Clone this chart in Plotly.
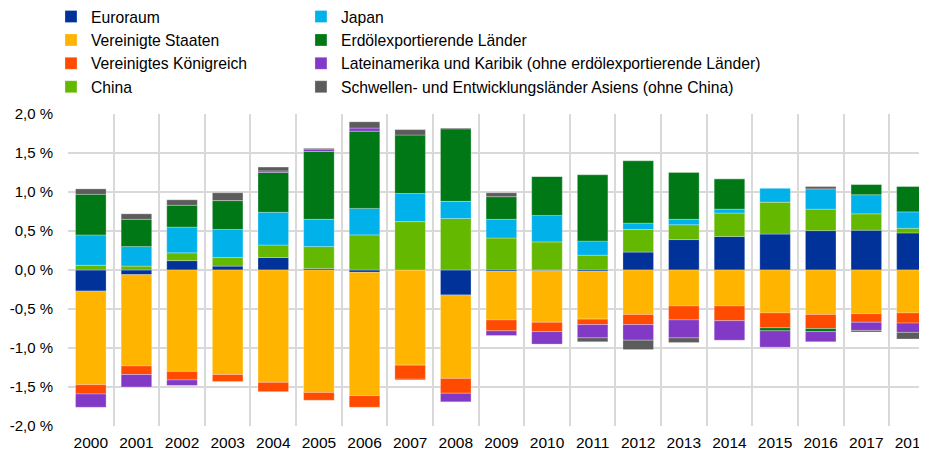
import plotly.graph_objects as go

years = [str(y) for y in range(2000, 2019)]

euroraum =     [-0.27, -0.06, 0.12, 0.05, 0.16, 0.02, -0.03, 0.00, -0.32, -0.02, -0.01, -0.02, 0.23, 0.39, 0.43, 0.46, 0.505, 0.51, 0.475]
usa =          [-1.20, -1.17, -1.30, -1.34, -1.44, -1.57, -1.58, -1.22, -1.07, -0.62, -0.66, -0.61, -0.57, -0.46, -0.46, -0.55, -0.57, -0.56, -0.55]
uk =           [-0.12, -0.11, -0.11, -0.09, -0.12, -0.10, -0.15, -0.18, -0.19, -0.14, -0.12, -0.07, -0.13, -0.18, -0.19, -0.19, -0.18, -0.11, -0.13]
china =        [0.06, 0.05, 0.10, 0.11, 0.16, 0.28, 0.45, 0.62, 0.66, 0.41, 0.36, 0.19, 0.29, 0.19, 0.30, 0.41, 0.275, 0.21, 0.06]
japan =        [0.39, 0.25, 0.33, 0.36, 0.42, 0.35, 0.34, 0.36, 0.22, 0.24, 0.34, 0.18, 0.08, 0.07, 0.05, 0.18, 0.26, 0.245, 0.21]
oil =          [0.52, 0.35, 0.28, 0.37, 0.51, 0.87, 0.99, 0.75, 0.93, 0.29, 0.50, 0.85, 0.80, 0.60, 0.39, -0.04, -0.04, 0.13, 0.325]
latam =        [-0.17, -0.16, -0.07, 0.00, 0.02, 0.03, 0.04, -0.01, -0.11, -0.06, -0.16, -0.17, -0.20, -0.23, -0.25, -0.21, -0.13, -0.105, -0.12]
asia =         [0.07, 0.07, 0.07, 0.10, 0.05, 0.01, 0.08, 0.07, 0.01, 0.05, 0.00, -0.05, -0.12, -0.06, 0.00, 0.00, 0.03, -0.02, -0.085]

series = [
    ("Euroraum", euroraum, "#003299", "legend"),
    ("Vereinigte Staaten", usa, "#FFB400", "legend"),
    ("Vereinigtes Königreich", uk, "#FF4B00", "legend"),
    ("China", china, "#65B800", "legend"),
    ("Japan", japan, "#00B1EA", "legend2"),
    ("Erdölexportierende Länder", oil, "#007816", "legend2"),
    ("Lateinamerika und Karibik (ohne erdölexportierende Länder)", latam, "#8139C6", "legend2"),
    ("Schwellen- und Entwicklungsländer Asiens (ohne China)", asia, "#5C5C5C", "legend2"),
]

ytickvals = [-2.0, -1.5, -1.0, -0.5, 0.0, 0.5, 1.0, 1.5, 2.0]
yticktext = ["-2,0 %", "-1,5 %", "-1,0 %", "-0,5 %", "0,0 %", "0,5 %", "1,0 %", "1,5 %", "2,0 %"]

FONT = "Liberation Sans, Arial, sans-serif"

fig = go.Figure()
for name, vals, color, leg in series:
    fig.add_trace(go.Bar(
        x=years, y=vals, name=name, legend=leg,
        marker=dict(color=color, line=dict(color="rgba(255,255,255,0.35)", width=0.8)),
    ))

legend_common = dict(
    font=dict(family=FONT, size=15.7, color="#000000"),
    bgcolor="rgba(0,0,0,0)", borderwidth=0,
    xref="paper", yref="paper",
    xanchor="left", yanchor="top",
    orientation="v", traceorder="normal",
)

# the page adds an 8px body margin; margins below compensate for it
fig.update_layout(
    width=927, height=450,
    barmode="relative", bargap=0.33,
    margin=dict(l=60, r=8, t=106, b=32, autoexpand=False),
    paper_bgcolor="white", plot_bgcolor="white",
    font=dict(family=FONT, size=15, color="#000000"),
    legend=dict(x=-0.0198, y=1.3660, **legend_common),
    legend2=dict(x=0.2712, y=1.3660, **legend_common),
    xaxis=dict(
        type="category", tickson="boundaries",
        range=[-0.5, 18.33],
        showgrid=True, gridcolor="#D9D9D9", gridwidth=1.5,
        ticks="", showline=False, zeroline=False,
        tickfont=dict(family=FONT, size=15.5, color="#000000"),
        ticklabelstandoff=5, tickangle=0,
    ),
    yaxis=dict(
        range=[-2.0, 2.0],
        tickvals=ytickvals, ticktext=yticktext,
        showgrid=True, gridcolor="#D9D9D9", gridwidth=1.5,
        zeroline=False, showline=False, ticks="",
        tickfont=dict(family=FONT, size=15, color="#000000"),
        ticklabelstandoff=14,
    ),
)

fig.write_html("out.html")
